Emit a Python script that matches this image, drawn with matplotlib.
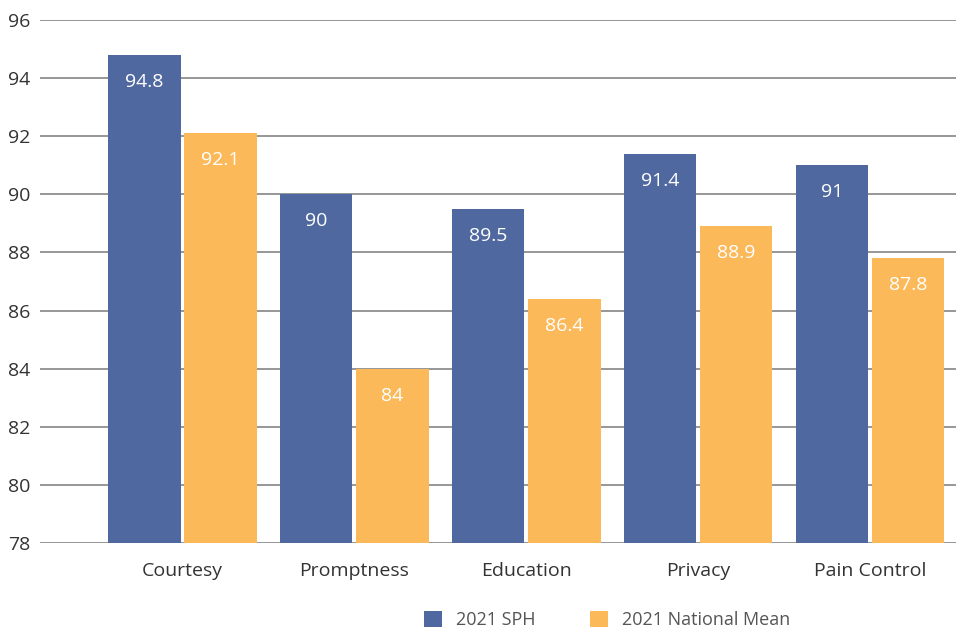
import numpy as np
import matplotlib.pyplot as plt

plt.rcParams['font.family'] = ['Open Sans', 'DejaVu Sans']

categories = ["Courtesy", "Promptness", "Education", "Privacy", "Pain Control"]
sph_2021 = [94.8, 90, 89.5, 91.4, 91]
national_mean_2021 = [92.1, 84, 86.4, 88.9, 87.8]
series_names = ["2021 SPH", "2021 National Mean"]

blue = "#5068a0"
orange = "#fbb95a"

fig = plt.figure(figsize=(9.56, 6.31), dpi=100)
ax = fig.add_axes([40 / 956, 88 / 631, 916 / 956, 523 / 631])

x = np.arange(len(categories))
w = 0.424
off = 0.221
b1 = ax.bar(x - off, [v - 78 for v in sph_2021], w, bottom=78, color=blue, label=series_names[0], zorder=3)
b2 = ax.bar(x + off, [v - 78 for v in national_mean_2021], w, bottom=78, color=orange, label=series_names[1], zorder=3)

# value labels inside the top of each bar
for bars, vals in ((b1, sph_2021), (b2, national_mean_2021)):
    for rect, v in zip(bars, vals):
        ax.annotate(f"{v:g}", (rect.get_x() + rect.get_width() / 2, v),
                    xytext=(0, -19.5), textcoords="offset points",
                    ha="center", va="center", color="white", fontsize=14, zorder=4)

ax.set_ylim(78, 96)
ax.set_yticks(np.arange(78, 97, 2))
ax.set_xlim(-0.826, 4.5)
ax.set_xticks(x)
ax.set_xticklabels(categories)
ax.yaxis.grid(True, color="#858585", linewidth=1.2, zorder=0)
for s in ax.spines.values():
    s.set_visible(False)
ax.tick_params(axis="both", length=0, labelsize=14, colors="#333333")
ax.tick_params(axis="y", pad=7)
ax.tick_params(axis="x", pad=14)

fig.legend(handles=[b1, b2], loc="center", bbox_to_anchor=(0.635, 0.018),
           ncol=2, frameon=False, fontsize=13, handlelength=1.0, handleheight=1.0,
           columnspacing=3.0, labelcolor="#555555")

fig.savefig("out.png", dpi=100)
